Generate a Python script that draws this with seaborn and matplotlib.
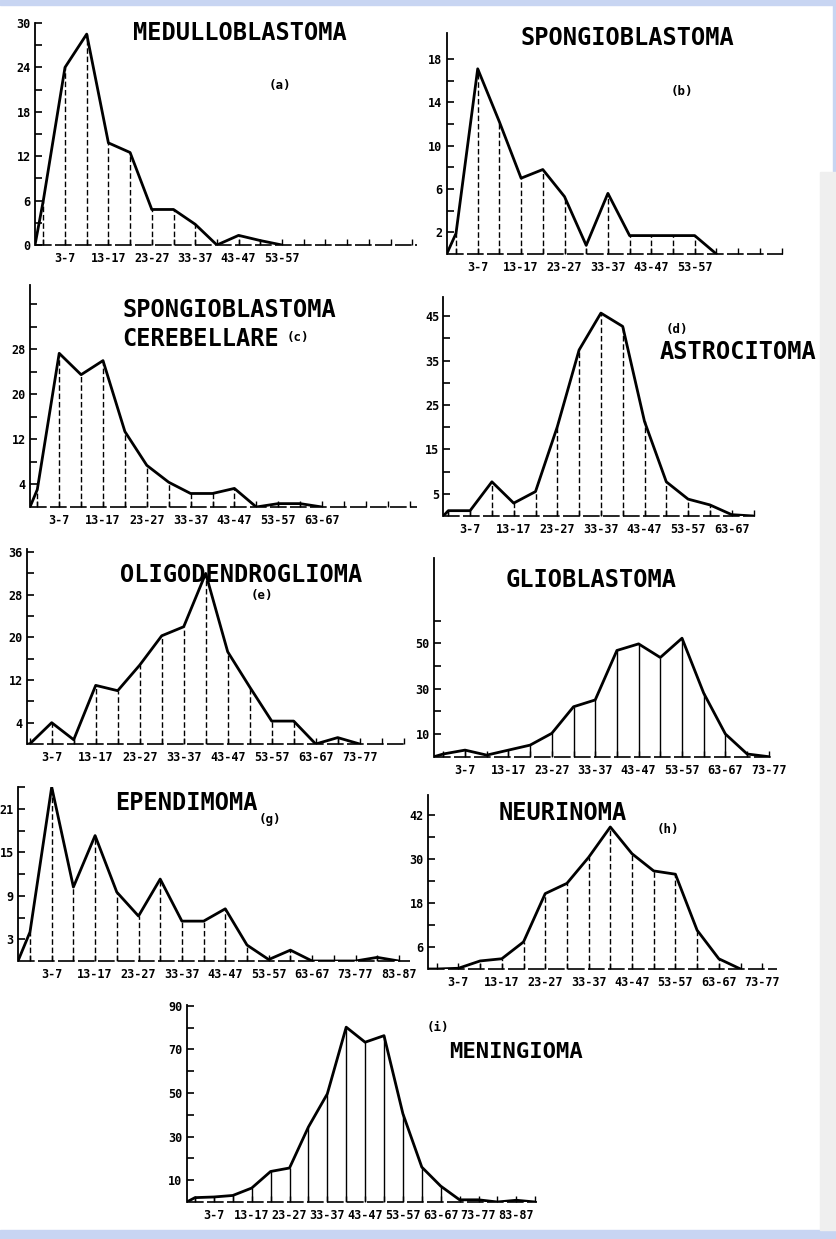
#!/usr/bin/env python3
"""Age distribution (frequency polygons) of nine brain tumour types."""

import numpy as np
import pandas as pd
import seaborn as sns
import matplotlib.pyplot as plt
from matplotlib.patches import Rectangle

# DATA ###############################################################################
AGE_CLASSES = ["0-2", "3-7", "8-12", "13-17", "18-22", "23-27", "28-32", "33-37",
               "38-42", "43-47", "48-52", "53-57", "58-62", "63-67", "68-72",
               "73-77", "78-82", "83-87", "88-92", "93-97"]

# cases per age class, starting with "0-2"
medulloblastoma = [6, 24, 28.5, 13.8, 12.5, 4.8, 4.8, 2.8, 0, 1.3, 0.6, 0]
spongioblastoma = [1.9, 17.1, 12.2, 7.0, 7.8, 5.3, 0.8, 5.6, 1.7, 1.7, 1.7, 1.7, 0]
spongio_cerebellare = [3.1, 27.3, 23.5, 26, 13.4, 7.4, 4.4, 2.4, 2.4, 3.3, 0, 0.6, 0.6, 0]
astrocitoma = [1.2, 1.2, 7.7, 2.9, 5.5, 20.1, 37.4, 45.7, 42.7, 21.3, 7.7, 3.8, 2.5, 0.3, 0]
oligodendroglioma = [0, 4.0, 0.8, 11, 10, 14.8, 20.3, 22, 32, 17.3, 10.7, 4.3, 4.3, 0, 1.2, 0]
glioblastoma = [1.2, 2.9, 0.7, 2.9, 5.1, 10.3, 22, 25, 46.8, 49.7, 43.7, 52.2, 28, 10, 1.2, 0]
ependimoma = [4, 24, 10.2, 17.3, 9.5, 6.2, 11.3, 5.5, 5.5, 7.2, 2.2, 0.2, 1.5, 0, 0, 0, 0.5, 0]
neurinoma = [0, 0.2, 2.2, 2.8, 7.4, 20.6, 23.4, 30.5, 38.8, 31.5, 26.8, 25.9, 10.6, 2.8, 0]
meningioma = [2.0, 2.3, 3, 6.4, 14, 15.6, 34.4, 49.6, 80.2, 73.3, 76.3, 40.5, 16, 7.3,
              1, 1, 0, 0.8, 0]

# y ticks (labelled / unlabelled)
yt_a = [0, 6, 12, 18, 24, 30];   ym_a = [3, 9, 15, 21, 27]
yt_b = [2, 6, 10, 14, 18];       ym_b = [4, 8, 12, 16]
yt_c = [4, 12, 20, 28];          ym_c = [8, 16, 24, 32, 36]
yt_d = [5, 15, 25, 35, 45];      ym_d = [10, 20, 30, 40]
yt_e = [4, 12, 20, 28, 36];      ym_e = [8, 16, 24, 32]
yt_f = [10, 30, 50];             ym_f = [20, 40, 60]
yt_g = [3, 9, 15, 21];           ym_g = [6, 12, 18, 24]
yt_h = [6, 18, 30, 42];          ym_h = [12, 24, 36]
yt_i = [10, 30, 50, 70, 90];     ym_i = [20, 40, 60, 80]

####################################################################################
W, H = 836, 1239   # pixels

# layout in pixels: y-axis x, baseline y, axis top, baseline end, x of class "0-2",
# class spacing, pixels per case
panels = [
    dict(v=medulloblastoma, yt=yt_a, ym=ym_a, last=11, ls=(0, (4, 2)),
         axis=35, base=245, top=23, right=417, c0=43.3, dx=21.7, unit=7.42),
    dict(v=spongioblastoma, yt=yt_b, ym=ym_b, last=11, ls=(0, (4, 2)),
         axis=446.7, base=254, top=33, right=783, c0=456, dx=21.7, unit=10.83),
    dict(v=spongio_cerebellare, yt=yt_c, ym=ym_c, last=13, ls=(0, (4, 2)),
         axis=30, base=507, top=285, right=417, c0=37.3, dx=21.9, unit=5.63),
    dict(v=astrocitoma, yt=yt_d, ym=ym_d, last=13, ls=(0, (4, 2)),
         axis=443.3, base=516, top=297, right=755, c0=448.3, dx=21.8, unit=4.44),
    dict(v=oligodendroglioma, yt=yt_e, ym=ym_e, last=15, ls=(0, (4, 2)),
         axis=27, base=744, top=549, right=405, c0=29.7, dx=22.0, unit=5.33),
    dict(v=glioblastoma, yt=yt_f, ym=ym_f, last=15, ls="solid",
         axis=434, base=756.7, top=558, right=772, c0=443.3, dx=21.7, unit=2.27),
    dict(v=ependimoma, yt=yt_g, ym=ym_g, last=17, ls=(0, (4, 2)),
         axis=18, base=961, top=787, right=410, c0=30, dx=21.7, unit=7.33),
    dict(v=neurinoma, yt=yt_h, ym=ym_h, last=15, ls=(0, (4, 2)),
         axis=428, base=969, top=795, right=777, c0=436.7, dx=21.7, unit=3.66),
    dict(v=meningioma, yt=yt_i, ym=ym_i, last=17, ls="solid",
         axis=186.7, base=1202, top=1005, right=537, c0=195, dx=18.9, unit=2.18),
]

titles = [
    ("MEDULLOBLASTOMA", 240, 33, "center", 17), ("(a)", 280, 85, "center", 9),
    ("SPONGIOBLASTOMA", 627, 38, "center", 17), ("(b)", 682, 92, "center", 9),
    ("SPONGIOBLASTOMA", 122, 310, "left", 17), ("CEREBELLARE", 122, 339, "left", 17),
    ("(c)", 298, 338, "center", 9),
    ("(d)", 677, 329, "center", 9), ("ASTROCITOMA", 738, 352, "center", 17),
    ("OLIGODENDROGLIOMA", 241, 575, "center", 17), ("(e)", 262, 595, "center", 9),
    ("GLIOBLASTOMA", 591, 580, "center", 17),
    ("EPENDIMOMA", 186, 803, "center", 17), ("(g)", 270, 820, "center", 9),
    ("NEURINOMA", 563, 813, "center", 17), ("(h)", 668, 829, "center", 9),
    ("(i)", 438, 1028, "center", 9), ("MENINGIOMA", 516, 1052, "center", 16),
]

sns.set_style("ticks")
plt.rcParams["font.family"] = ["DejaVu Sans Mono", "DejaVu Sans"]
plt.rcParams["text.color"] = "black"

fig = plt.figure(figsize=(W / 100, H / 100), dpi=100, facecolor="white")

# scanned page edges
blue, grey = "#c8d5f2", "#efefef"
for (x, y, w, h, c) in [(0, 0, W, 5, blue), (0, 1230, W, 9, blue),
                        (833, 0, 3, 172, blue), (820, 172, 16, 1058, grey)]:
    fig.patches.append(Rectangle((x / W, 1 - (y + h) / H), w / W, h / H,
                                 transform=fig.transFigure, color=c, zorder=0))

for p in panels:
    ax = fig.add_axes([p["axis"] / W, 1 - p["base"] / H,
                       (p["right"] - p["axis"]) / W, (p["base"] - p["top"]) / H])
    ax.patch.set_alpha(0)
    x0 = (p["axis"] - p["c0"]) / p["dx"]
    x1 = (p["right"] - p["c0"]) / p["dx"]
    y1 = (p["base"] - p["top"]) / p["unit"]

    vals = np.array(p["v"], dtype=float)
    pos = np.arange(len(vals))
    df = pd.DataFrame({"pos": np.r_[x0, pos], "count": np.r_[0.0, vals]})
    sns.lineplot(data=df, x="pos", y="count", sort=False, estimator=None,
                 color="black", lw=2.0, ax=ax)
    ax.vlines(pos, 0, vals, colors="black", lw=1.0, linestyles=[p["ls"]])
    ax.axhline(0, color="black", lw=1.2, ls=(0, (10, 2)), clip_on=False)

    ax.set_xlim(x0, x1)
    ax.set_ylim(0, y1)
    sns.despine(ax=ax, bottom=True)
    ax.spines["left"].set_linewidth(1.3)
    ax.spines["left"].set_color("black")

    xt = np.arange(0, int(np.floor(x1)) + 1)
    xt = xt[xt < len(AGE_CLASSES)]
    ax.set_xticks(xt)
    ax.set_xticklabels([AGE_CLASSES[i] if (i % 2 == 1 and i <= p["last"]) else ""
                        for i in xt])
    ax.set_yticks(p["yt"])
    ax.set_yticklabels([str(t) for t in p["yt"]])
    ax.set_yticks(p["ym"], minor=True)
    ax.tick_params(axis="x", direction="in", length=4, width=1, pad=5,
                   labelsize=8.5, colors="black", labelcolor="black")
    ax.tick_params(axis="y", which="both", direction="in", length=5, width=1.2,
                   pad=3, labelsize=8.5, colors="black", labelcolor="black")
    for t in ax.get_xticklabels() + ax.get_yticklabels():
        t.set_fontweight("bold")
    ax.set_xlabel("")
    ax.set_ylabel("")

for (txt, x, y, ha, fs) in titles:
    fig.text(x / W, 1 - y / H, txt, ha=ha, va="center", fontsize=fs,
             fontweight="bold", family="DejaVu Sans Mono", color="black")

fig.savefig("out.png", dpi=100, facecolor="white")
